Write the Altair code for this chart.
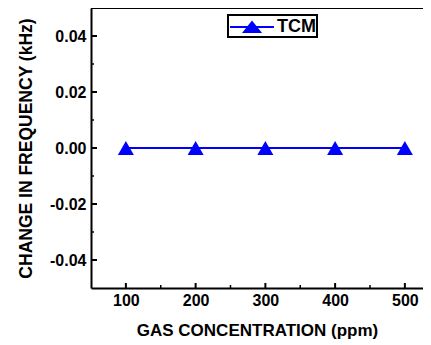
import altair as alt
import pandas as pd

# Data
concentration = [100, 200, 300, 400, 500]
freq_change = [0.0, 0.0, 0.0, 0.0, 0.0]
series = ["TCM", "TCM", "TCM", "TCM", "TCM"]

# Tick positions
x_major = [100, 200, 300, 400, 500]
x_minor = [150, 250, 350, 450]
y_major = [-0.04, -0.02, 0.0, 0.02, 0.04]
y_minor = [-0.03, -0.01, 0.01, 0.03]

FONT = "Liberation Sans"
BLUE = "#0000ff"
W, H = 332, 280

df = pd.DataFrame({"conc": concentration, "freq": freq_change, "series": series})
xs = alt.Scale(domain=[50, 526], nice=False, zero=False)
ys = alt.Scale(domain=[-0.05, 0.05], nice=False, zero=False)

x_axis = alt.Axis(
    orient="bottom", values=x_major, format="d", grid=False,
    ticks=False, tickSize=0, domain=True, domainColor="black", domainWidth=2,
    labelFont=FONT, labelFontSize=16, labelFontWeight="bold", labelColor="black",
    labelPadding=4, title="GAS CONCENTRATION (ppm)", titleFont=FONT,
    titleFontSize=17, titleFontWeight="bold", titleColor="black", titlePadding=14)
y_axis = alt.Axis(
    orient="left", values=y_major, grid=False,
    labelExpr="(datum.value < 0 ? '-' : '') + format(abs(datum.value), '.2f')",
    ticks=False, tickSize=0, domain=True, domainColor="black", domainWidth=2,
    labelFont=FONT, labelFontSize=16, labelFontWeight="bold", labelColor="black",
    labelPadding=5, title="CHANGE IN FREQUENCY (kHz)", titleFont=FONT,
    titleFontSize=17.5, titleFontWeight="bold", titleColor="black", titlePadding=14)

line = alt.Chart(df).mark_line(color=BLUE, strokeWidth=2).encode(
    x=alt.X("conc:Q", scale=xs, axis=x_axis),
    y=alt.Y("freq:Q", scale=ys, axis=y_axis),
)

legend_path = "M-1,0H3.4M0.4,0.5L1.2,-0.5L2,0.5Z"
points = alt.Chart(df).mark_point(shape="triangle-up", filled=True, size=256, opacity=1).encode(
    x=alt.X("conc:Q", scale=xs, axis=x_axis),
    y=alt.Y("freq:Q", scale=ys, axis=y_axis),
    color=alt.Color("series:N", scale=alt.Scale(domain=["TCM"], range=[BLUE]),
                    legend=alt.Legend(
                        title=None, orient="none", legendX=137, legendY=7,
                        strokeColor="black", padding=1, fillColor="white",
                        symbolType=legend_path, symbolSize=400,
                        symbolFillColor=BLUE, symbolStrokeColor=BLUE, symbolStrokeWidth=2,
                        labelOffset=26, labelFont=FONT, labelFontSize=18,
                        labelFontWeight="bold", labelColor="black")),
)

xmaj = pd.DataFrame({"v": x_major})
xmin = pd.DataFrame({"v": x_minor})
ymaj = pd.DataFrame({"v": y_major})
ymin = pd.DataFrame({"v": y_minor})

x_major_ticks = alt.Chart(xmaj).mark_rule(color="black", strokeWidth=2).encode(
    x=alt.X("v:Q", scale=xs, axis=x_axis),
    y=alt.value(H), y2=alt.value(H - 5),
)
x_minor_ticks = alt.Chart(xmin).mark_rule(color="black", strokeWidth=1.5).encode(
    x=alt.X("v:Q", scale=xs, axis=x_axis),
    y=alt.value(H), y2=alt.value(H - 3),
)
y_major_ticks = alt.Chart(ymaj).mark_rule(color="black", strokeWidth=2).encode(
    y=alt.Y("v:Q", scale=ys, axis=y_axis),
    x=alt.value(0), x2=alt.value(6),
)
y_minor_ticks = alt.Chart(ymin).mark_rule(color="black", strokeWidth=1.5).encode(
    y=alt.Y("v:Q", scale=ys, axis=y_axis),
    x=alt.value(0), x2=alt.value(3),
)
# top frame line (the right side of the original frame is cut off)
top_frame = alt.Chart(df).mark_rule(color="black", strokeWidth=2).encode(
    y=alt.value(0), x=alt.value(0), x2=alt.value(W),
)

base = alt.layer(
    line, x_major_ticks, x_minor_ticks, y_major_ticks, y_minor_ticks, top_frame, points
).properties(
    width=W, height=H,
    autosize=alt.AutoSizeParams(type="none"),
    padding={"left": 83, "top": 0, "right": 0, "bottom": 52},
    background="white",
).configure_view(stroke=None)

try:
    chart = base.configure_legend(strokeWidth=2)
    chart.to_dict()
except Exception:
    chart = base

chart.save("out.html", embed_options={"renderer": "svg", "actions": False})
